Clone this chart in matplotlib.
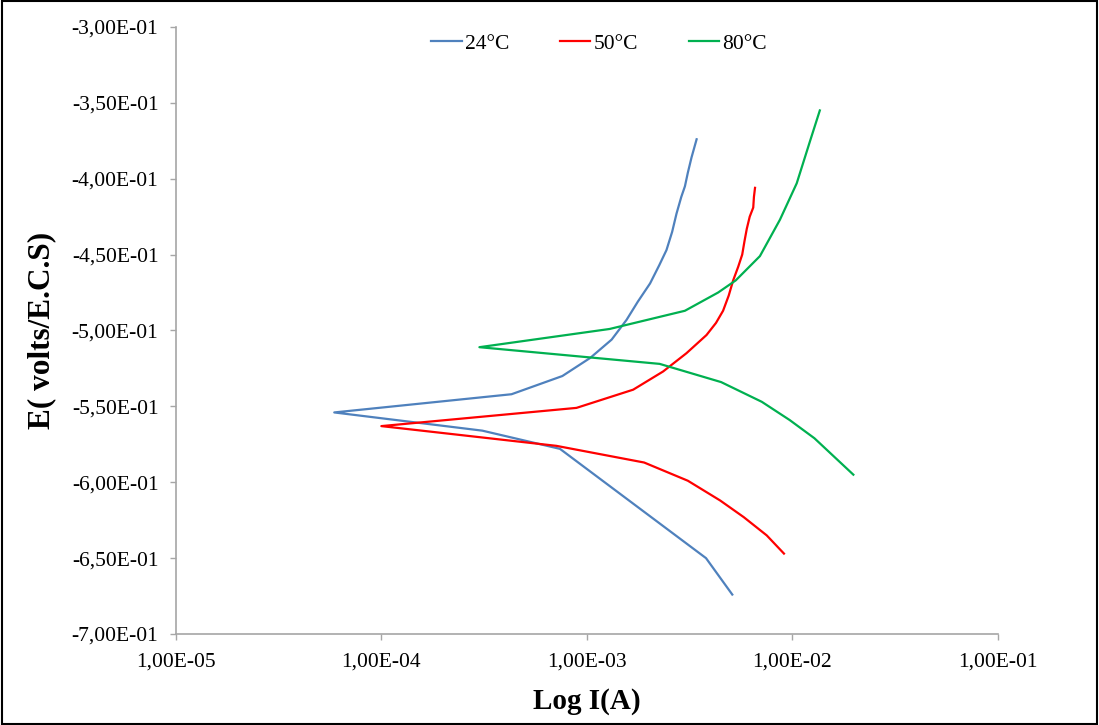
import numpy as np
import matplotlib
matplotlib.use("Agg")
import matplotlib.pyplot as plt
from matplotlib.ticker import FuncFormatter, LogLocator, NullLocator
from matplotlib.patches import Rectangle

plt.rcParams['font.family'] = ['Liberation Serif', 'DejaVu Serif']

# Tafel curves: current (A) and potential (V/ECS)
i_24 = [5.1e-3, 3.8e-3, 7.4e-4, 3.1e-4, 5.9e-5, 4.3e-4, 7.6e-4, 1.04e-3, 1.32e-3,
        1.56e-3, 1.77e-3, 2.03e-3, 2.25e-3, 2.44e-3, 2.6e-3, 2.73e-3, 2.88e-3,
        3.0e-3, 3.1e-3, 3.23e-3, 3.42e-3]
e_24 = [-0.674, -0.650, -0.578, -0.566, -0.554, -0.542, -0.530, -0.518, -0.506,
        -0.493, -0.481, -0.469, -0.457, -0.447, -0.435, -0.423, -0.412,
        -0.405, -0.396, -0.386, -0.374]

i_50 = [9.1e-3, 7.5e-3, 5.8e-3, 4.45e-3, 3.1e-3, 1.9e-3, 7.1e-4, 1.0e-4, 8.9e-4,
        1.68e-3, 2.35e-3, 3.05e-3, 3.82e-3, 4.25e-3, 4.6e-3, 4.9e-3, 5.15e-3,
        5.45e-3, 5.7e-3, 5.85e-3, 6.0e-3, 6.2e-3, 6.45e-3, 6.5e-3, 6.58e-3]
e_50 = [-0.647, -0.635, -0.623, -0.612, -0.599, -0.587, -0.576, -0.563, -0.551,
        -0.539, -0.527, -0.515, -0.503, -0.495, -0.487, -0.477, -0.467,
        -0.458, -0.450, -0.441, -0.433, -0.425, -0.419, -0.412, -0.406]

i_80 = [1.98e-2, 1.28e-2, 9.7e-3, 7.1e-3, 4.5e-3, 2.26e-3, 3.0e-4, 1.29e-3, 3.0e-3,
        4.35e-3, 5.3e-3, 6.95e-3, 8.7e-3, 1.05e-2, 1.22e-2, 1.36e-2]
e_80 = [-0.595, -0.571, -0.559, -0.547, -0.534, -0.522, -0.511, -0.499, -0.487,
        -0.475, -0.467, -0.451, -0.427, -0.403, -0.375, -0.355]

fig = plt.figure(figsize=(10.99, 7.25), dpi=100)
ax = fig.add_axes([0.160, 0.1255, 0.748, 0.8373])

ax.plot(i_24, e_24, color='#4F81BD', lw=1.6, label='24°C')
ax.plot(i_50, e_50, color='#FF0000', lw=1.6, label='50°C')
ax.plot(i_80, e_80, color='#00B050', lw=1.6, label='80°C')

ax.set_xscale('log')
ax.set_xlim(1e-5, 1e-1)
ax.set_ylim(-0.70, -0.30)
ax.xaxis.set_major_locator(LogLocator(base=10, numticks=10))
ax.xaxis.set_minor_locator(NullLocator())
ax.set_yticks(np.arange(-0.70, -0.299, 0.05))


def sci_comma(v, pos):
    return ('%.2E' % v).replace('.', ',')


ax.xaxis.set_major_formatter(FuncFormatter(sci_comma))
ax.yaxis.set_major_formatter(FuncFormatter(sci_comma))

for s in ['top', 'right']:
    ax.spines[s].set_visible(False)
for s in ['left', 'bottom']:
    ax.spines[s].set_color('#A6A6A6')
    ax.spines[s].set_linewidth(1.2)
ax.tick_params(axis='both', direction='out', color='#A6A6A6', length=4.5,
               width=1, labelsize=15.5, labelcolor='black')
ax.tick_params(axis='y', pad=8)
ax.tick_params(axis='x', pad=9)

ax.set_xlabel('Log I(A)', fontsize=21, fontweight='bold', labelpad=12)
ax.set_ylabel('E( volts/E.C.S)', fontsize=22.5, fontweight='bold', labelpad=11)

ax.legend(loc='center', bbox_to_anchor=(0.515, 0.972), ncol=3, frameon=False,
          fontsize=15.5, handlelength=1.4, handletextpad=0.15, columnspacing=2.37)

fig.patches.append(Rectangle((0.002, 0.002), 0.996, 0.996, transform=fig.transFigure,
                             fill=False, edgecolor='black', lw=1.5))

fig.savefig('out.png', dpi=100)
